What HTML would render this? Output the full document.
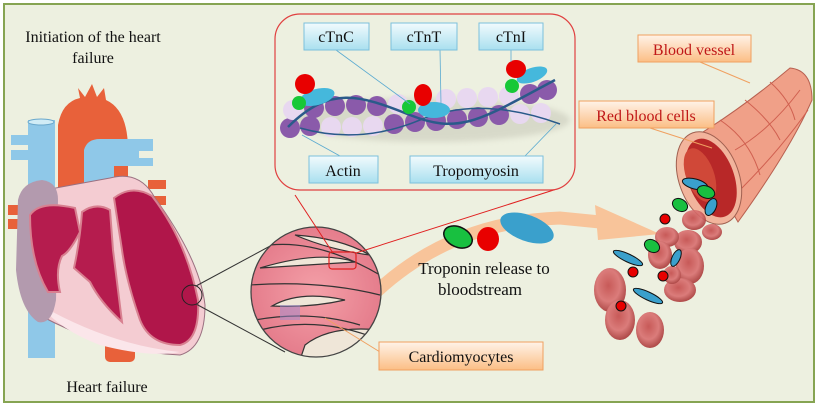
<!DOCTYPE html>
<html><head><meta charset="utf-8"><style>
html,body{margin:0;padding:0;background:#fff}
svg{display:block}
text{font-family:"Liberation Serif",serif}
</style></head><body>
<svg width="818" height="406" viewBox="0 0 818 406" xmlns="http://www.w3.org/2000/svg">
<defs>
<linearGradient id="bl" x1="0" y1="0" x2="0" y2="1"><stop offset="0" stop-color="#f2fbfd"/><stop offset="1" stop-color="#a9e0ef"/></linearGradient>
<linearGradient id="or" x1="0" y1="0" x2="0" y2="1"><stop offset="0" stop-color="#fff3e8"/><stop offset="1" stop-color="#fbbe85"/></linearGradient>
<radialGradient id="rbc" cx="0.45" cy="0.4" r="0.6"><stop offset="0" stop-color="#c44a4a"/><stop offset="0.6" stop-color="#d97070"/><stop offset="1" stop-color="#a83838"/></radialGradient>
<radialGradient id="myo" cx="0.5" cy="0.5" r="0.5"><stop offset="0" stop-color="#f4a0a8"/><stop offset="1" stop-color="#e57d8c"/></radialGradient>
<clipPath id="cc"><circle cx="316" cy="292" r="65"/></clipPath>
<filter id="sh"><feGaussianBlur stdDeviation="3"/></filter>
</defs>
<rect x="0" y="0" width="818" height="406" fill="#fff"/>
<rect x="4" y="4" width="810" height="398" fill="#edf0e0" stroke="#86a452" stroke-width="2"/>

<text x="93" y="42" font-size="16" text-anchor="middle" fill="#111">Initiation of the heart</text>
<text x="93" y="63" font-size="16" text-anchor="middle" fill="#111">failure</text>
<text x="107" y="392" font-size="16" text-anchor="middle" fill="#111">Heart failure</text>

<!-- Heart -->
<g>
<rect x="105" y="335" width="30" height="27" rx="5" fill="#e8613a"/>
<rect x="8" y="205" width="22" height="10" fill="#e8613a"/>
<rect x="8" y="219" width="22" height="10" fill="#e8613a"/>
<rect x="148" y="180" width="18" height="9" fill="#e8613a"/>
<rect x="152" y="196" width="14" height="9" fill="#e8613a"/>
<path d="M58,235 L58,125 Q62,102 80,98 L78,88 L85,97 L92,84 L97,97 L104,88 L106,100 Q128,110 128,150 L128,235 Z" fill="#e8613a"/>
<rect x="28" y="120" width="27" height="238" fill="#8fc8e8"/>
<ellipse cx="41" cy="122" rx="13" ry="3" fill="#d0ecf6" stroke="#6aa8cc"/>
<rect x="11" y="135" width="19" height="10" fill="#8fc8e8"/>
<rect x="11" y="150" width="19" height="10" fill="#8fc8e8"/>
<path d="M84,215 L84,150 Q87,139 100,139 L153,139 L153,151 L139,151 L139,158 L153,158 L153,166 L114,166 L114,215 Z" fill="#8fc8e8"/>
<path d="M20,200 Q25,185 45,190 L110,178 Q140,170 155,198 Q200,260 205,305 Q205,348 180,355 Q110,352 45,318 Q18,300 20,200 Z" fill="#f4ccd2" stroke="#9a7080" stroke-width="1"/>
<path d="M40,305 Q110,345 180,352 Q150,358 100,345 Q60,330 40,305 Z" fill="#fbe6ea"/>
<path d="M18,200 Q22,182 42,180 Q58,182 58,200 L56,300 Q52,325 38,322 Q20,310 16,270 Z" fill="#b39aae"/>
<path d="M30,215 Q40,200 75,208 L80,232 Q70,252 62,256 Q55,270 60,292 L48,292 Q30,262 30,215 Z" fill="#b51c4e" stroke="#d88090" stroke-width="2"/>
<path d="M82,212 Q96,202 110,210 L113,250 Q118,290 122,322 Q100,302 90,282 L74,268 Q80,240 82,212 Z" fill="#b51c4e" stroke="#d88090" stroke-width="2"/>
<path d="M114,198 Q132,184 152,196 Q186,240 198,300 Q200,340 180,345 Q150,345 140,320 Q126,280 122,250 Z" fill="#b0164a" stroke="#d88090" stroke-width="2"/>
<circle cx="192" cy="295" r="10" fill="none" stroke="#222" stroke-width="1"/>
</g>
<line x1="196" y1="286" x2="285" y2="238" stroke="#333" stroke-width="1"/>
<line x1="196" y1="304" x2="285" y2="352" stroke="#333" stroke-width="1"/>

<path d="M360,308 Q440,222 560,218 L600,222" fill="none" stroke="#f8c49a" stroke-width="13"/>
<polygon points="595,205 660,234 598,240" fill="#f8c49a"/>

<circle cx="316" cy="292" r="65" fill="url(#myo)"/>
<g clip-path="url(#cc)" stroke="#333" stroke-width="1.2">
<path d="M295,235 Q340,238 370,255 Q330,250 295,235 Z" fill="#efe6d8"/>
<path d="M260,268 Q320,250 355,262 Q310,265 260,268 Z" fill="#efe6d8"/>
<path d="M272,306 Q300,290 345,300 Q310,308 272,306 Z" fill="#efe6d8"/>
<path d="M305,345 Q330,325 380,330 L380,360 L300,360 Z" fill="#efe6d8"/>
<path d="M250,285 Q320,280 380,295" fill="none"/>
<path d="M255,320 Q310,310 360,325" fill="none"/>
<path d="M260,330 Q320,315 380,340" fill="none"/>
<path d="M270,245 Q320,240 380,275" fill="none"/>
<rect x="280" y="305" width="20" height="15" fill="#a08ad0" opacity="0.5" stroke="none"/>
</g>
<circle cx="316" cy="292" r="65" fill="none" stroke="#444" stroke-width="1.3"/>
<rect x="329" y="252" width="27" height="17" rx="3" fill="none" stroke="#e02020" stroke-width="1.2"/>
<line x1="295" y1="195" x2="333" y2="253" stroke="#e02020" stroke-width="1"/>
<line x1="560" y1="188" x2="356" y2="253" stroke="#e02020" stroke-width="1"/>
<line x1="325" y1="318" x2="380" y2="352" stroke="#f0a060" stroke-width="1"/>

<rect x="275" y="14" width="300" height="176" rx="25" fill="#edf0e0" stroke="#e04040" stroke-width="1.2"/>
<ellipse cx="430" cy="120" rx="140" ry="22" fill="#b8b8a8" opacity="0.4" filter="url(#sh)"/>
<g>
<circle cx="290" cy="128" r="10" fill="#8a5aaa"/><circle cx="310" cy="126" r="10" fill="#8a5aaa"/>
<circle cx="331" cy="127" r="10" fill="#e8d8f0"/><circle cx="352" cy="127" r="10" fill="#e8d8f0"/>
<circle cx="373" cy="126" r="10" fill="#e8d8f0"/><circle cx="394" cy="124" r="10" fill="#8a5aaa"/>
<circle cx="415" cy="122" r="10" fill="#8a5aaa"/><circle cx="436" cy="121" r="10" fill="#8a5aaa"/>
<circle cx="457" cy="119" r="10" fill="#8a5aaa"/><circle cx="478" cy="117" r="10" fill="#8a5aaa"/>
<circle cx="499" cy="115" r="10" fill="#8a5aaa"/><circle cx="520" cy="114" r="10" fill="#e8d8f0"/>
<circle cx="541" cy="113" r="10" fill="#e8d8f0"/>
<circle cx="293" cy="110" r="10" fill="#e8d8f0"/><circle cx="314" cy="108" r="10" fill="#8a5aaa"/>
<circle cx="335" cy="106" r="10" fill="#8a5aaa"/><circle cx="356" cy="105" r="10" fill="#8a5aaa"/>
<circle cx="377" cy="106" r="10" fill="#8a5aaa"/><circle cx="398" cy="104" r="10" fill="#e8d8f0"/>
<circle cx="446" cy="99" r="10" fill="#e8d8f0"/><circle cx="467" cy="98" r="10" fill="#e8d8f0"/>
<circle cx="488" cy="97" r="10" fill="#e8d8f0"/><circle cx="509" cy="96" r="10" fill="#e8d8f0"/>
<circle cx="530" cy="94" r="10" fill="#8a5aaa"/><circle cx="547" cy="90" r="10" fill="#8a5aaa"/>
</g>
<path d="M288,127 C330,85 360,95 410,115 S480,120 555,80" fill="none" stroke="#2a5a8a" stroke-width="2.5"/>
<path d="M300,128 Q360,145 420,120 T560,124" fill="none" stroke="#2a5a8a" stroke-width="1.5"/>
<ellipse cx="317" cy="97" rx="18" ry="8" fill="#45b8dc" transform="rotate(-15 317 97)"/>
<circle cx="299" cy="103" r="7" fill="#18c838"/>
<ellipse cx="305" cy="84" rx="10" ry="10" fill="#e80000"/>
<ellipse cx="434" cy="110" rx="16" ry="8" fill="#45b8dc"/>
<circle cx="409" cy="107" r="7" fill="#18c838"/>
<ellipse cx="423" cy="95" rx="9" ry="11" fill="#e80000"/>
<ellipse cx="532" cy="75" rx="16" ry="7" fill="#45b8dc" transform="rotate(-20 532 75)"/>
<circle cx="512" cy="86" r="7" fill="#18c838"/>
<ellipse cx="516" cy="69" rx="10" ry="9" fill="#e80000"/>
<g stroke="#5aaad0" stroke-width="0.8">
<line x1="336" y1="50" x2="410" y2="104"/>
<line x1="440" y1="50" x2="441" y2="104"/>
<line x1="511" y1="50" x2="511" y2="62"/>
<line x1="340" y1="156" x2="302" y2="135"/>
<line x1="525" y1="156" x2="556" y2="124"/>
</g>
<g stroke="#7cc0dc" stroke-width="1" fill="url(#bl)">
<rect x="304" y="23" width="65" height="27"/>
<rect x="391" y="23" width="66" height="27"/>
<rect x="479" y="23" width="64" height="27"/>
<rect x="309" y="156" width="69" height="27"/>
<rect x="410" y="156" width="133" height="27"/>
</g>
<g font-size="16" text-anchor="middle" fill="#111">
<text x="336" y="42">cTnC</text><text x="424" y="42">cTnT</text><text x="511" y="42">cTnI</text>
<text x="343" y="176">Actin</text><text x="476" y="176">Tropomyosin</text>
</g>

<ellipse cx="458" cy="237" rx="15" ry="10" fill="#18c040" stroke="#111" stroke-width="1.5" transform="rotate(25 458 237)"/>
<ellipse cx="488" cy="239" rx="11" ry="12" fill="#e80000"/>
<ellipse cx="527" cy="228" rx="28" ry="13" fill="#3aa0cc" transform="rotate(20 527 228)"/>
<text x="484" y="274" font-size="17" text-anchor="middle" fill="#111">Troponin release to</text>
<text x="480" y="295" font-size="17" text-anchor="middle" fill="#111">bloodstream</text>

<path d="M690,140 Q740,110 790,68 Q812,70 812,100 Q790,150 738,222 Z" fill="#f0a088" stroke="#b86050" stroke-width="1"/>
<g stroke="#d06050" stroke-width="1" fill="none">
<path d="M720,120 Q750,140 760,175"/><path d="M745,100 Q770,120 780,140"/><path d="M770,82 Q790,100 795,120"/>
<path d="M735,150 Q770,130 800,90"/><path d="M740,190 Q780,150 808,110"/>
</g>
<ellipse cx="709" cy="178" rx="30" ry="48" fill="#f2b49c" stroke="#a06050" transform="rotate(-20 709 178)"/>
<ellipse cx="711" cy="178" rx="23" ry="41" fill="#b82828" transform="rotate(-20 711 178)"/>
<ellipse cx="700" cy="175" rx="14" ry="28" fill="#d04838" transform="rotate(-20 700 175)"/>
<line x1="650" y1="128" x2="712" y2="148" stroke="#f0a060" stroke-width="1"/>
<line x1="700" y1="62" x2="750" y2="83" stroke="#f0a060" stroke-width="1"/>

<g opacity="0.9">
<ellipse cx="694" cy="220" rx="12" ry="10" fill="url(#rbc)"/>
<ellipse cx="712" cy="232" rx="10" ry="8" fill="url(#rbc)"/>
<ellipse cx="688" cy="242" rx="14" ry="12" fill="url(#rbc)"/>
<ellipse cx="667" cy="237" rx="12" ry="10" fill="url(#rbc)"/>
<ellipse cx="690" cy="266" rx="14" ry="18" fill="url(#rbc)"/>
<ellipse cx="660" cy="255" rx="12" ry="14" fill="url(#rbc)"/>
<ellipse cx="680" cy="290" rx="16" ry="12" fill="url(#rbc)"/>
<ellipse cx="610" cy="290" rx="16" ry="22" fill="url(#rbc)"/>
<ellipse cx="620" cy="320" rx="15" ry="20" fill="url(#rbc)"/>
<ellipse cx="650" cy="330" rx="14" ry="18" fill="url(#rbc)"/>
<ellipse cx="672" cy="275" rx="9" ry="9" fill="url(#rbc)"/>
</g>
<ellipse cx="695" cy="184" rx="13" ry="5" fill="#3aa0cc" stroke="#111" transform="rotate(15 695 184)"/>
<ellipse cx="706" cy="192" rx="9" ry="6" fill="#18c040" stroke="#111" transform="rotate(20 706 192)"/>
<ellipse cx="680" cy="205" rx="8" ry="6" fill="#18c040" stroke="#111" transform="rotate(30 680 205)"/>
<ellipse cx="711" cy="207" rx="5" ry="9" fill="#3aa0cc" stroke="#111" transform="rotate(25 711 207)"/>
<circle cx="665" cy="219" r="5" fill="#e80000" stroke="#111"/>
<ellipse cx="652" cy="246" rx="8" ry="6" fill="#18c040" stroke="#111" transform="rotate(30 652 246)"/>
<ellipse cx="628" cy="258" rx="16" ry="4" fill="#3aa0cc" stroke="#111" transform="rotate(25 628 258)"/>
<ellipse cx="676" cy="258" rx="4" ry="9" fill="#3aa0cc" stroke="#111" transform="rotate(25 676 258)"/>
<circle cx="633" cy="272" r="5" fill="#e80000" stroke="#111"/>
<circle cx="663" cy="276" r="5" fill="#e80000" stroke="#111"/>
<ellipse cx="648" cy="296" rx="16" ry="4" fill="#3aa0cc" stroke="#111" transform="rotate(25 648 296)"/>
<circle cx="621" cy="306" r="5" fill="#e80000" stroke="#111"/>

<g stroke="#f0a060" stroke-width="1" fill="url(#or)">
<rect x="638" y="35" width="113" height="27"/>
<rect x="579" y="101" width="135" height="27"/>
<rect x="379" y="342" width="164" height="28"/>
</g>
<text x="694" y="55" font-size="16" text-anchor="middle" fill="#c01818">Blood vessel</text>
<text x="646" y="121" font-size="16" text-anchor="middle" fill="#c01818">Red blood cells</text>
<text x="461" y="362" font-size="16" text-anchor="middle" fill="#111">Cardiomyocytes</text>
</svg>
</body></html>
